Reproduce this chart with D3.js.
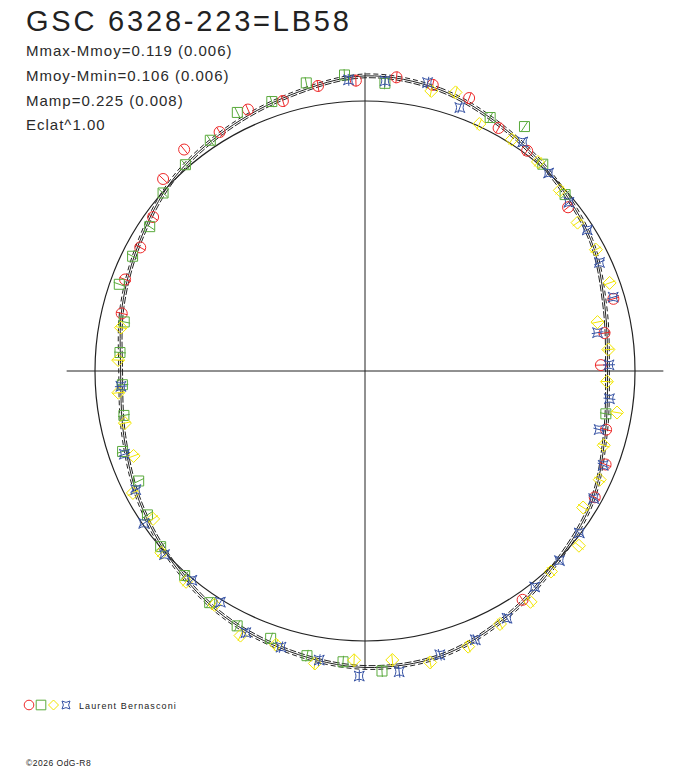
<!DOCTYPE html>
<html>
<head>
<meta charset="utf-8">
<script src="https://cdn.jsdelivr.net/npm/d3@7"></script>
<style>
  body { margin: 0; background: #fff; }
  svg { display: block; font-family: "Liberation Sans", Arial, sans-serif; }
</style>
</head>
<body>
<script>
// phase (0..1, clockwise from top) and relative brightness (1 = reference circle)
const redPts = [
  [0.995, 1.076], [0.017, 1.094], [0.974, 1.070], [0.953, 1.045], [0.933, 1.061], [0.913, 1.036],
  [0.891, 1.059], [0.871, 1.032], [0.850, 0.970], [0.830, 0.950], [0.808, 0.951], [0.787, 0.926],
  [0.037, 1.089], [0.058, 1.082], [0.080, 1.027], [0.101, 1.013], [0.142, 0.966], [0.205, 0.958],
  [0.225, 0.898], [0.246, 0.874], [0.288, 0.919], [0.309, 0.956], [0.330, 0.971], [0.404, 1.029]
];
const greenPts = [
  [0.989, 1.099], [0.968, 1.089], [0.947, 1.056], [0.927, 1.068], [0.906, 1.029], [0.886, 1.013],
  [0.865, 0.997], [0.844, 0.960], [0.823, 0.960], [0.804, 0.965], [0.782, 0.910], [0.762, 0.910],
  [0.011, 1.068], [0.073, 1.047], [0.092, 1.081], [0.113, 1.010], [0.135, 0.988], [0.278, 0.906],
  [0.741, 0.900], [0.721, 0.908], [0.699, 0.946], [0.678, 0.932], [0.657, 0.966], [0.637, 0.998],
  [0.615, 1.010], [0.594, 1.033], [0.574, 1.056], [0.554, 1.050], [0.532, 1.076], [0.512, 1.080],
  [0.491, 1.113]
];
const yellowPts = [
  [0.037, 1.066], [0.050, 1.085], [0.069, 1.008], [0.090, 1.015], [0.110, 1.005], [0.131, 0.984],
  [0.153, 0.960], [0.173, 0.966], [0.195, 0.963], [0.217, 0.880], [0.236, 0.905], [0.257, 0.897],
  [0.276, 0.946], [0.298, 0.926], [0.319, 0.958], [0.339, 0.953], [0.359, 1.023], [0.381, 1.013],
  [0.401, 1.052], [0.422, 1.062], [0.443, 1.090], [0.465, 1.106], [0.485, 1.075], [0.506, 1.072],
  [0.527, 1.099], [0.550, 1.066], [0.570, 1.083], [0.591, 1.030], [0.612, 1.024], [0.634, 1.011],
  [0.653, 0.957], [0.673, 0.971], [0.694, 0.913], [0.716, 0.910], [0.736, 0.917], [0.757, 0.915],
  [0.778, 0.918]
];
const bluePts = [
  [0.991, 1.080], [0.011, 1.077], [0.034, 1.093], [0.055, 1.037], [0.096, 1.030], [0.119, 1.000],
  [0.140, 0.980], [0.160, 0.975], [0.181, 0.957], [0.204, 0.959], [0.224, 0.873], [0.246, 0.904],
  [0.268, 0.911], [0.289, 0.894], [0.310, 0.949], [0.331, 0.970], [0.353, 0.995], [0.373, 1.006],
  [0.394, 1.017], [0.417, 1.056], [0.438, 1.076], [0.459, 1.087], [0.482, 1.121], [0.503, 1.130],
  [0.525, 1.084], [0.547, 1.069], [0.568, 1.065], [0.589, 1.010], [0.610, 1.006], [0.632, 1.007],
  [0.654, 0.995], [0.674, 0.956], [0.697, 0.943], [0.740, 0.906]
];

// fitted curve, read every 15 degrees
const fitPhase = [0, 0.0417, 0.0833, 0.125, 0.1667, 0.2083, 0.25, 0.2917, 0.3333, 0.375, 0.4167, 0.4583,
                  0.5, 0.5417, 0.5833, 0.625, 0.6667, 0.7083, 0.75, 0.7917, 0.8333, 0.875, 0.9167, 0.9583];
const fitFlux = [1.093, 1.078, 1.036, 0.998, 0.967, 0.920, 0.898, 0.921, 0.970, 1.003, 1.050, 1.092,
                 1.098, 1.076, 1.048, 1.006, 0.965, 0.925, 0.905, 0.931, 0.963, 1.005, 1.031, 1.059];
const fitErr = 0.007;
const pointErr = 0.022;
const axisReach = 1.105;

const title = "GSC 6328-223=LB58";
const statLines = ["Mmax-Mmoy=0.119 (0.006)", "Mmoy-Mmin=0.106 (0.006)", "Mamp=0.225 (0.008)", "Eclat^1.00"];
const observer = "Laurent Bernasconi";
const credit = "\u00A92026 OdG-R8";

const width = 688, height = 768;
const cx = 365, cy = 371;

const svg = d3.select("body").append("svg")
    .attr("width", width)
    .attr("height", height);

const rScale = d3.scaleLinear().domain([0, 1]).range([0, 270]);
const aScale = d3.scaleLinear().domain([0, 1]).range([0, 2 * Math.PI]);

function pos(ph, f) {
    const a = aScale(ph), r = rScale(f);
    return [cx + r * Math.sin(a), cy - r * Math.cos(a)];
}

const g = svg.append("g");

// crosshair
g.append("line")
    .attr("x1", pos(0.75, axisReach)[0]).attr("y1", cy)
    .attr("x2", pos(0.25, axisReach)[0]).attr("y2", cy)
    .attr("stroke", "#222").attr("stroke-width", 1);
g.append("line")
    .attr("x1", cx).attr("y1", pos(0, axisReach)[1])
    .attr("x2", cx).attr("y2", pos(0.5, axisReach)[1])
    .attr("stroke", "#222").attr("stroke-width", 1);

// reference circle
g.append("circle")
    .attr("cx", cx).attr("cy", cy)
    .attr("r", rScale(1))
    .attr("fill", "none")
    .attr("stroke", "#222")
    .attr("stroke-width", 1.2);

// fit curve with its envelope
const fitData = fitPhase.map((p, i) => [p, fitFlux[i]]);
const radial = d3.lineRadial()
    .angle(d => aScale(d[0]))
    .radius(d => rScale(d[1]))
    .curve(d3.curveCardinalClosed);

[[0, null], [-fitErr, "7,2"], [fitErr, "5,3"]].forEach(([off, dash]) => {
    g.append("path")
        .attr("transform", `translate(${cx},${cy})`)
        .attr("d", radial(fitData.map(d => [d[0], d[1] + off])))
        .attr("fill", "none")
        .attr("stroke", "#222")
        .attr("stroke-width", 1)
        .attr("stroke-dasharray", dash);
});

// marker shapes
const shapes = {
    circle: s => `M${s},0A${s},${s} 0 1,1 ${-s},0A${s},${s} 0 1,1 ${s},0Z`,
    square: s => `M${-s},${-s}H${s}V${s}H${-s}Z`,
    diamond: s => `M0,${-s}L${s},0L0,${s}L${-s},0Z`,
    star: s => `M${-s},${-s}Q0,${-s * 0.3} ${s},${-s}Q${s * 0.3},0 ${s},${s}Q0,${s * 0.3} ${-s},${s}Q${-s * 0.3},0 ${-s},${-s}Z`
};

const series = [
    { pts: redPts, shape: "circle", size: 5.5, color: "#ee2a2a" },
    { pts: greenPts, shape: "square", size: 5, color: "#5aaa3c" },
    { pts: yellowPts, shape: "diamond", size: 6.5, color: "#f2e600" },
    { pts: bluePts, shape: "star", size: 5, color: "#3652a4" }
];

series.forEach(s => {
    const grp = g.append("g");
    // radial error bars
    grp.selectAll(".err")
        .data(s.pts)
        .enter()
        .append("line")
        .attr("x1", d => pos(d[0], d[1] - pointErr)[0])
        .attr("y1", d => pos(d[0], d[1] - pointErr)[1])
        .attr("x2", d => pos(d[0], d[1] + pointErr)[0])
        .attr("y2", d => pos(d[0], d[1] + pointErr)[1])
        .attr("stroke", s.color)
        .attr("stroke-width", 1);
    grp.selectAll(".mk")
        .data(s.pts)
        .enter()
        .append("path")
        .attr("transform", d => `translate(${pos(d[0], d[1])})`)
        .attr("d", shapes[s.shape](s.size))
        .attr("fill", "none")
        .attr("stroke", s.color)
        .attr("stroke-width", 1);
});

// title and stats
svg.append("text")
    .attr("x", 26).attr("y", 31)
    .attr("font-size", "29px")
    .attr("letter-spacing", "2.8px")
    .attr("fill", "#222")
    .text(title);

svg.selectAll(".stat")
    .data(statLines)
    .enter()
    .append("text")
    .attr("x", 26)
    .attr("y", (d, i) => 56 + i * 24.8)
    .attr("font-size", "15px")
    .attr("letter-spacing", "1px")
    .attr("fill", "#2a2a2a")
    .text(d => d);

// legend
const legend = svg.append("g").attr("transform", "translate(0,705)");
const legendX = [29, 41, 53.5, 66];
series.forEach((s, i) => {
    legend.append("path")
        .attr("transform", `translate(${legendX[i]},0)`)
        .attr("d", shapes[s.shape](s.shape === "star" ? 4 : s.shape === "diamond" ? 5 : 4.8))
        .attr("fill", "none")
        .attr("stroke", s.color)
        .attr("stroke-width", 1);
});
legend.append("text")
    .attr("x", 79).attr("y", 3.5)
    .attr("font-size", "9px")
    .attr("letter-spacing", "1.1px")
    .attr("fill", "#222")
    .text(observer);

svg.append("text")
    .attr("x", 26).attr("y", 766)
    .attr("font-size", "8.5px")
    .attr("letter-spacing", "0.5px")
    .attr("fill", "#222")
    .text(credit);
</script>
</body>
</html>
